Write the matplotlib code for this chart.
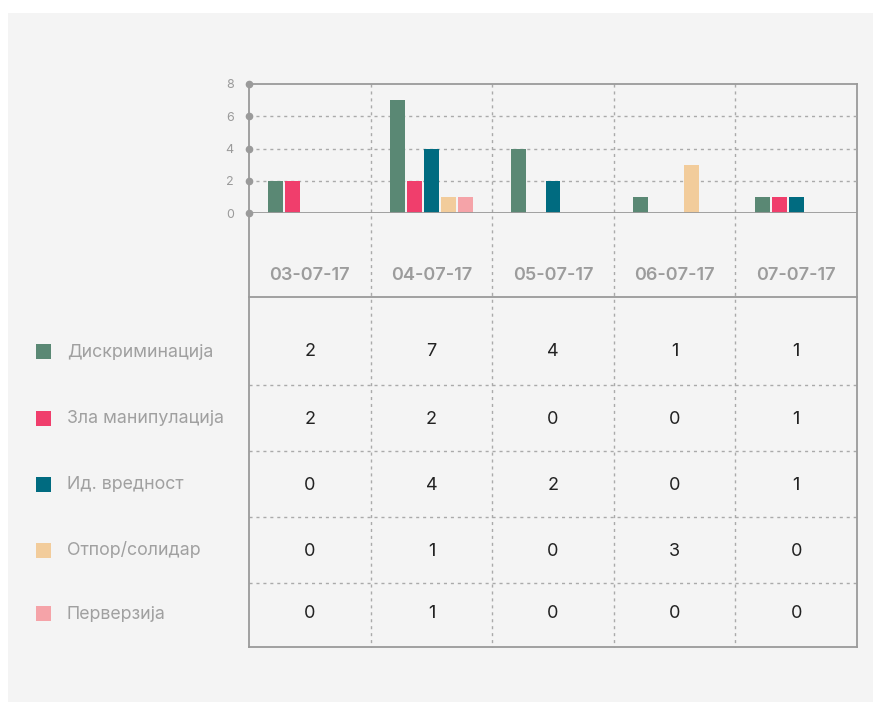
import matplotlib
matplotlib.use("Agg")
import matplotlib.pyplot as plt
import numpy as np
from matplotlib.patches import Rectangle

plt.rcParams['font.family'] = ['Inter', 'DejaVu Sans']

# Podaci
dates = ['03-07-17', '04-07-17', '05-07-17', '06-07-17', '07-07-17']
categories = ['Дискриминација', 'Зла манипулација', 'Ид. вредност', 'Отпор/солидар', 'Перверзија']
diskriminacija = [2, 7, 4, 1, 1]
manipulacija = [2, 2, 0, 0, 1]
vrednost = [0, 4, 2, 0, 1]
otpor = [0, 1, 0, 3, 0]
perverzija = [0, 1, 0, 0, 0]
series = [diskriminacija, manipulacija, vrednost, otpor, perverzija]
colors = ['#5a8874', '#f03e6c', '#006b80', '#f2cc9b', '#f5a3a8']
yticks = [0, 2, 4, 6, 8]

W, H = 873, 702
fig = plt.figure(figsize=(W / 100, H / 100), dpi=100)
fig.patch.set_facecolor('white')

# Pozadina i tabela u pikselima
bg = fig.add_axes([0, 0, 1, 1])
bg.set_xlim(0, W)
bg.set_ylim(H, 0)
bg.axis('off')
bg.add_patch(Rectangle((8, 13), W - 8, H - 13, facecolor='#f4f4f4', edgecolor='none'))

L, R, TOP, ZERO, HEAD, BOT = 249, 857, 84, 213, 297, 647
grid_kw = dict(color='#aaaaaa', lw=1.0, linestyle=(0, (2.2, 2.8)))
border_kw = dict(color='#9a9a9a', lw=1.3)

col_w = (R - L) / len(dates)
for i in range(1, len(dates)):
    bg.plot([L + i * col_w] * 2, [TOP, BOT], **grid_kw)

row_lines = [385, 451, 517, 583]
for y in row_lines:
    bg.plot([L, R], [y, y], **grid_kw)

bg.plot([L, R], [TOP, TOP], **border_kw)
bg.plot([L, R], [HEAD, HEAD], **border_kw)
bg.plot([L, R], [BOT, BOT], **border_kw)
bg.plot([R, R], [TOP, BOT], **border_kw)
bg.plot([L, L], [TOP, BOT], **border_kw)

for i, d in enumerate(dates):
    bg.text(L + (i + 0.5) * col_w, 275, d, ha='center', va='center',
            fontsize=13, fontweight='semibold', color='#9c9c9c')

row_centers = [352, 419, 485, 551, 614]
for r, (cat, vals, c) in enumerate(zip(categories, series, colors)):
    yc = row_centers[r]
    bg.add_patch(Rectangle((36, yc - 8), 15, 15, facecolor=c, edgecolor='none'))
    bg.text(67, yc, cat, ha='left', va='center', fontsize=12.8, color='#a0a0a0')
    for i, v in enumerate(vals):
        bg.text(L + (i + 0.5) * col_w, yc, str(v), ha='center', va='center',
                fontsize=13, color='#222222')

# Grafikon
ax = fig.add_axes([L / W, 1 - ZERO / H, (R - L) / W, (ZERO - TOP) / H])
ax.patch.set_alpha(0)
ax.set_xlim(0, len(dates))
ax.set_ylim(0, 8)
for s in ax.spines.values():
    s.set_visible(False)

x = np.arange(len(dates)) + 0.5
step, bw = 0.14, 0.123
for k, (vals, c) in enumerate(zip(series, colors)):
    ax.bar(x + (k - 2) * step, vals, width=bw, color=c, zorder=3)

for t in yticks[1:-1]:
    ax.axhline(t, **grid_kw, zorder=1)
ax.axhline(0, **border_kw, zorder=4)
ax.plot([0] * len(yticks), yticks, 'o', color='#9a9a9a', ms=4.5, clip_on=False, zorder=5)

ax.set_xticks([])
ax.set_yticks(yticks)
ax.set_yticklabels([str(t) for t in yticks])
ax.tick_params(axis='y', length=0, pad=11, labelsize=9, labelcolor='#9a9a9a')

fig.savefig('out.png', dpi=100, facecolor=fig.get_facecolor())
